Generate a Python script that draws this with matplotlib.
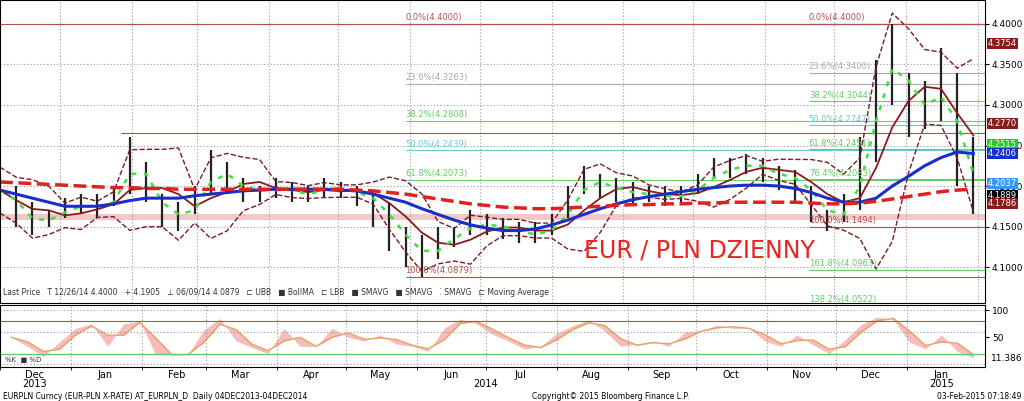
import matplotlib
matplotlib.use("Agg")
import matplotlib.pyplot as plt
import matplotlib.dates as mdates
import numpy as np
import pandas as pd

dates = pd.date_range("2013-12-06", periods=61, freq="7D")
closes = [4.195,4.17,4.15,4.165,
          4.17,4.18,4.17,4.19,4.24,
          4.19,4.17,4.16,4.18,
          4.23,4.20,4.20,4.19,4.20,
          4.19,4.19,4.20,4.195,
          4.19,4.18,4.15,4.13,
          4.11,4.13,4.14,4.155,4.15,
          4.15,4.14,4.14,4.15,
          4.18,4.21,4.20,4.195,
          4.19,4.19,4.185,4.19,4.20,
          4.22,4.22,4.23,4.22,
          4.21,4.21,4.18,4.16,
          4.17,4.23,4.33,4.36,4.30,
          4.30,4.32,4.24,4.19]
highs = [4.21,4.20,4.18,4.17,
         4.185,4.19,4.19,4.20,4.26,
         4.23,4.19,4.18,4.20,
         4.245,4.23,4.21,4.20,4.21,
         4.205,4.20,4.21,4.205,
         4.20,4.19,4.18,4.15,
         4.14,4.15,4.15,4.17,4.165,
         4.16,4.155,4.155,4.165,
         4.20,4.225,4.215,4.21,
         4.205,4.20,4.20,4.20,4.215,
         4.235,4.235,4.24,4.235,
         4.225,4.22,4.20,4.17,
         4.19,4.26,4.355,4.40,4.34,
         4.33,4.37,4.34,4.26]
lows = [4.18,4.15,4.14,4.15,
        4.16,4.165,4.16,4.175,4.19,
        4.18,4.15,4.145,4.165,
        4.19,4.19,4.18,4.18,4.185,
        4.18,4.18,4.185,4.185,
        4.175,4.15,4.12,4.10,
        4.088,4.11,4.125,4.14,4.14,
        4.135,4.13,4.13,4.14,
        4.16,4.19,4.185,4.18,
        4.175,4.18,4.175,4.18,4.19,
        4.21,4.21,4.215,4.205,
        4.195,4.18,4.155,4.145,
        4.155,4.17,4.23,4.30,4.26,
        4.27,4.28,4.20,4.165]
sma_blue = [4.195,4.19,4.185,4.18,
            4.175,4.175,4.175,4.178,4.182,
            4.185,4.185,4.185,4.188,
            4.19,4.192,4.194,4.195,4.196,
            4.196,4.196,4.196,4.195,
            4.194,4.19,4.185,4.18,
            4.172,4.165,4.158,4.152,4.148,
            4.145,4.145,4.147,4.152,
            4.158,4.165,4.172,4.178,
            4.183,4.187,4.19,4.193,4.196,
            4.198,4.2,4.201,4.201,
            4.2,4.197,4.192,4.185,
            4.18,4.18,4.185,4.2,4.212,
            4.225,4.235,4.242,4.24]
sma_red = [4.205,4.204,4.203,4.202,
           4.201,4.2,4.199,4.198,4.198,
           4.197,4.197,4.196,4.196,
           4.196,4.196,4.196,4.196,4.196,
           4.196,4.196,4.196,4.196,
           4.195,4.194,4.192,4.19,
           4.187,4.184,4.181,4.178,4.176,
           4.174,4.173,4.172,4.172,
           4.173,4.174,4.175,4.176,
           4.177,4.177,4.178,4.178,4.179,
           4.179,4.18,4.18,4.18,
           4.18,4.18,4.179,4.178,
           4.178,4.179,4.181,4.184,4.187,
           4.19,4.193,4.195,4.196]

fib_left = [(4.4000,"0.0%(4.4000)","#b05050"),(4.3263,"23.6%(4.3263)","#aaaaaa"),
            (4.2808,"38.2%(4.2808)","#66cc66"),(4.2439,"50.0%(4.2439)","#66cccc"),
            (4.2073,"61.8%(4.2073)","#66cc66"),(4.0879,"100.0%(4.0879)","#b05050")]
fib_right = [(4.4000,"0.0%(4.4000)","#b05050"),(4.3400,"23.6%(4.3400)","#aaaaaa"),
             (4.3044,"38.2%(4.3044)","#66cc66"),(4.2747,"50.0%(4.2747)","#66cccc"),
             (4.2451,"61.8%(4.2451)","#66cc66"),(4.2083,"76.4%(4.2083)","#66cc66"),
             (4.1494,"100.0%(4.1494)","#b05050"),(4.0963,"161.8%(4.0963)","#66cc66"),
             (4.0522,"138.2%(4.0522)","#66cc66")]
right_boxes = [(4.3754,"4.3754","#8b1a1a"),(4.2770,"4.2770","#8b1a1a"),
               (4.2515,"4.2515","#22cc22"),(4.2406,"4.2406","#1030d0"),
               (4.2037,"4.2037","#3399ff"),(4.1889,"4.1889","#000000"),
               (4.1786,"4.1786","#8b1a1a")]

s = pd.Series(closes, index=dates)
boll = s.rolling(4, min_periods=1).mean()
sd = s.rolling(4, min_periods=2).std().bfill()
upper = boll + 1.6*sd
lower = boll - 1.6*sd
green = s.rolling(2, min_periods=1).mean()
hh = pd.Series(highs, index=dates).rolling(3, min_periods=1).max()
ll = pd.Series(lows, index=dates).rolling(3, min_periods=1).min()
k = 100*(s-ll)/(hh-ll)
d = k.rolling(2, min_periods=1).mean()

fig = plt.figure(figsize=(10.24,4.01), dpi=100)
ax = fig.add_axes([0.0, 1-303/401, 985/1024, 303/401])
ax2 = fig.add_axes([0.0, 1-367/401, 985/1024, 62/401])
x0, x1 = pd.Timestamp("2013-12-06"), pd.Timestamp("2015-02-04")
for a in (ax, ax2):
    a.set_xlim(x0, x1)
    a.xaxis.set_major_locator(mdates.MonthLocator())
    a.grid(True, axis="x", ls=(0,(1,2)), color="#999999", lw=0.8)
ax.set_ylim(4.0556, 4.4296)
ax.yaxis.tick_right()
ax.set_yticks(np.arange(4.10, 4.41, 0.05))
ax.set_yticklabels([f"{v:.4f}" for v in np.arange(4.10,4.41,0.05)], fontsize=6.5)
ax.tick_params(axis="y", pad=2, length=3)
ax.grid(True, axis="y", ls=(0,(1,2)), color="#999999", lw=0.8)
ax.tick_params(axis="x", labelbottom=False, length=0)

xl = pd.Timestamp("2014-05-30"); xr = pd.Timestamp("2014-11-20")
ax.axhline(4.40, color="#b05050", lw=0.8)
for v, t, c in fib_left:
    ax.hlines(v, xl, x1, color=c, lw=0.8)
    ax.text(xl, v+0.002, t, fontsize=6, color=c, va="bottom")
for v, t, c in fib_right:
    ax.hlines(v, xr, x1, color=c, lw=0.8)
    ax.text(xr, v+0.002, t, fontsize=6, color=c, va="bottom")
ax.hlines([4.265], pd.Timestamp("2014-01-27"), x1, color="#b05050", lw=0.8)
ax.axhspan(4.158, 4.166, color="#f3c8c8", lw=0)

ax.vlines(dates, lows, highs, color="#222222", lw=1.6)
ax.plot(dates, upper, color="#7a1a2a", ls="--", lw=1)
ax.plot(dates, lower, color="#7a1a2a", ls="--", lw=1)
ax.plot(dates, boll, color="#8b1a1a", lw=1.3)
ax.plot(dates, green, color="#44dd44", ls=(0,(2,3)), lw=1.8)
ax.plot(dates, sma_blue, color="#1a2ec8", lw=2.2)
ax.plot(dates, sma_red, color="#dd2222", ls="--", lw=2.5)
ax.text(pd.Timestamp("2014-08-15"), 4.105, "EUR / PLN DZIENNY", color="#ee2222", fontsize=17, va="bottom")

for v, t, c in right_boxes:
    ax.text(1.003, v, t, transform=ax.get_yaxis_transform(), fontsize=6, color="white",
            va="center", ha="left", bbox=dict(boxstyle="square,pad=0.12", fc=c, ec="none"))

ax.text(0.003, 0.025, "Last Price   T 12/26/14 4.4000   + 4.1905   ⊥ 06/09/14 4.0879   ⊏ UBB   ■ BollMA   ⊏ LBB   ■ SMAVG   ■ SMAVG   ⁚ SMAVG   ⊏ Moving Average",
        transform=ax.transAxes, fontsize=5.5, color="#333333")

ax2.set_ylim(-5, 110)
ax2.fill_between(dates, k, d, color="#f4a0a0", alpha=0.7, lw=0)
ax2.plot(dates, d, color="#e8a060", lw=1)
ax2.axhline(80, color="#b05050", lw=0.8)
ax2.axhline(20, color="#66cc66", lw=1)
for v in (100, 60, 0):
    ax2.axhline(v, color="#999999", ls=(0,(1,2)), lw=0.8)
ax2.yaxis.tick_right()
ax2.set_yticks([100, 50])
ax2.set_yticklabels(["100", "50"], fontsize=6.5)
ax2.tick_params(axis="y", pad=2, length=3)
ax2.text(1.006, 11.386, "11.386", transform=ax2.get_yaxis_transform(), fontsize=6.5, va="center")
ax2.text(0.005, 5, "%K  ■ %D", transform=ax2.get_yaxis_transform(), fontsize=5, color="#333333")
months = pd.date_range("2013-12-01", "2015-01-01", freq="MS")
ax2.set_xticks([m + pd.Timedelta(days=15) for m in months])
ax2.set_xticklabels([m.strftime("%b") for m in months], fontsize=7)
ax2.tick_params(axis="x", length=0, pad=2)
ax2.set_xticks(list(months), minor=True)
ax2.grid(True, axis="x", which="minor", ls=(0,(1,2)), color="#999999", lw=0.8)
ax2.grid(False, axis="x", which="major")
yrs = [("2013", pd.Timestamp("2013-12-16")), ("2014", pd.Timestamp("2014-07-01")), ("2015", pd.Timestamp("2015-01-16"))]
for t, dt in yrs:
    ax2.text(dt, -0.32, t, transform=ax2.get_xaxis_transform(), fontsize=7, ha="center")
fig.text(0.003, 0.005, "EURPLN Curncy (EUR-PLN X-RATE) AT_EURPLN_D  Daily 04DEC2013-04DEC2014", fontsize=5.5)
fig.text(0.52, 0.005, "Copyright© 2015 Bloomberg Finance L.P.", fontsize=5.5)
fig.text(0.997, 0.005, "03-Feb-2015 07:18:49", fontsize=5.5, ha="right")
fig.savefig("out.png", dpi=100)
